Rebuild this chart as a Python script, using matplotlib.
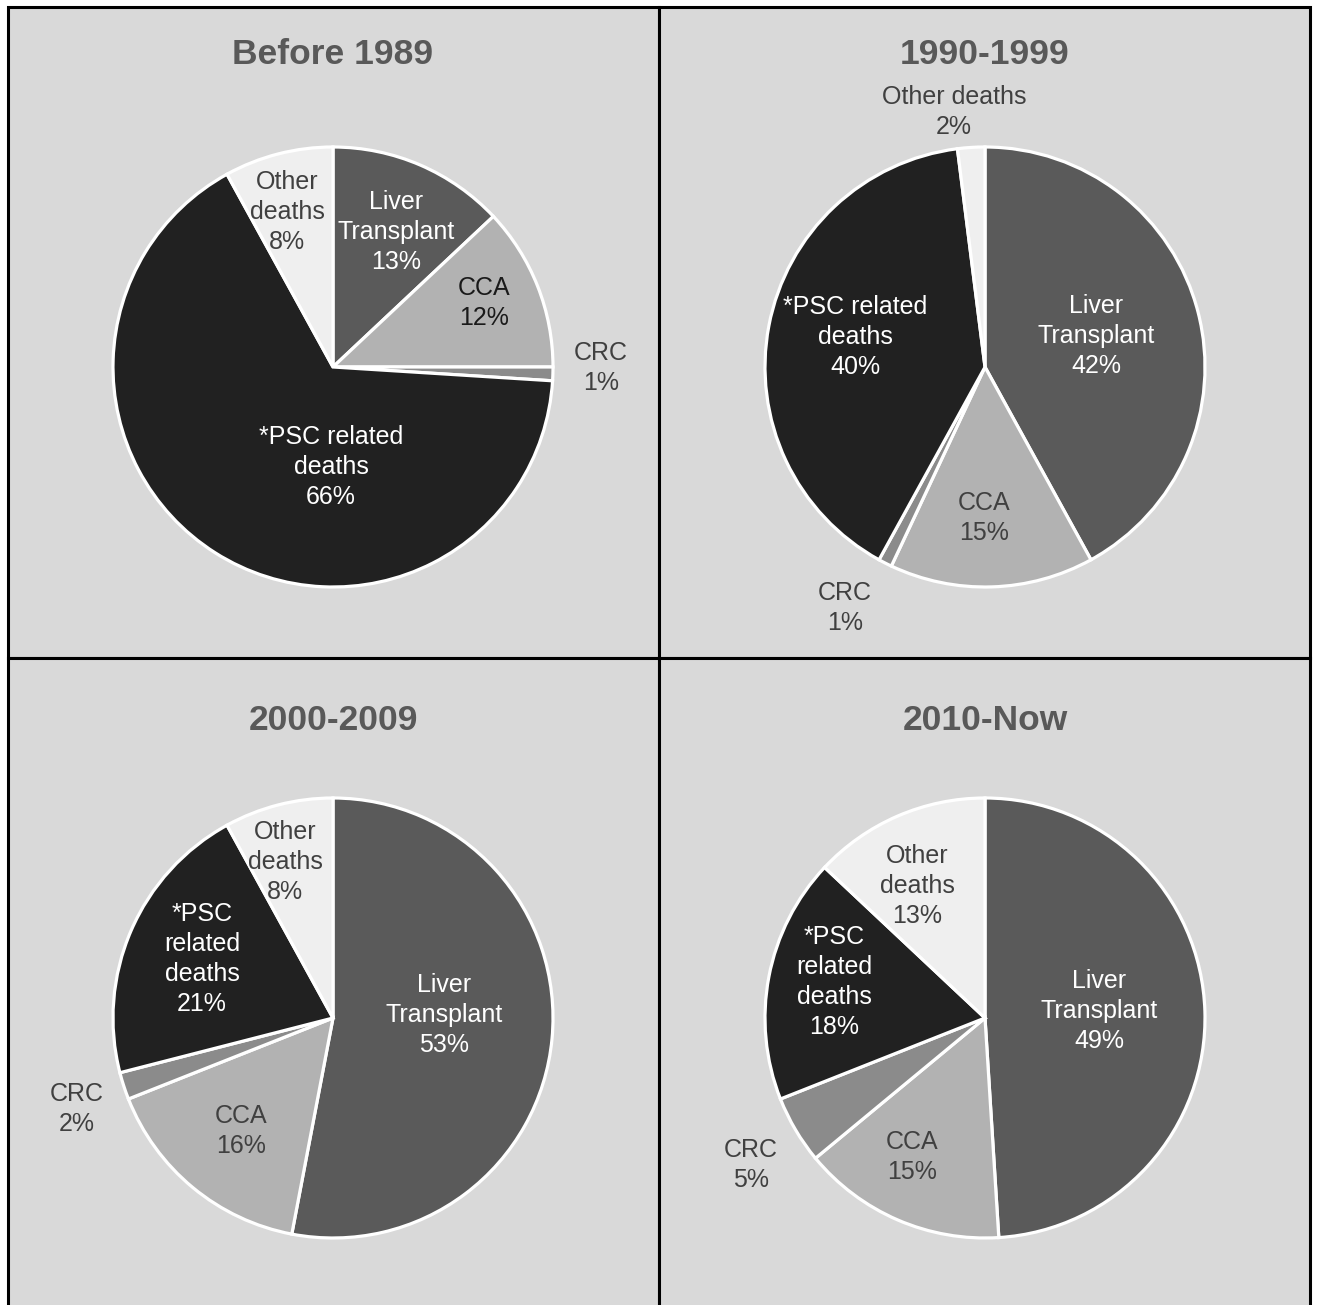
import matplotlib
matplotlib.use("Agg")
import matplotlib.pyplot as plt
from matplotlib.patches import Rectangle

plt.rcParams['font.family'] = ['Liberation Sans', 'DejaVu Sans']

# ---------------- data ----------------
periods = ["Before 1989", "1990-1999", "2000-2009", "2010-Now"]
causes = ["Liver Transplant", "CCA", "CRC", "*PSC related deaths", "Other deaths"]
values_before_1989 = [13, 12, 1, 66, 8]
values_1990_1999 = [42, 15, 1, 40, 2]
values_2000_2009 = [53, 16, 2, 21, 8]
values_2010_now = [49, 15, 5, 18, 13]
label_names_before_1989 = ["Liver\nTransplant", "CCA", "CRC", "*PSC related\ndeaths", "Other\ndeaths"]
label_names_1990_1999 = ["Liver\nTransplant", "CCA", "CRC", "*PSC related\ndeaths", "Other deaths"]
label_names_2000_2009 = ["Liver\nTransplant", "CCA", "CRC", "*PSC\nrelated\ndeaths", "Other\ndeaths"]
label_names_2010_now = ["Liver\nTransplant", "CCA", "CRC", "*PSC\nrelated\ndeaths", "Other\ndeaths"]

all_values = [values_before_1989, values_1990_1999, values_2000_2009, values_2010_now]
all_names = [label_names_before_1989, label_names_1990_1999, label_names_2000_2009, label_names_2010_now]

# ---------------- style / layout ----------------
slice_colors = ["#5a5a5a", "#b2b2b2", "#8b8b8b", "#212121", "#efefef"]
label_colors = ["white", "#404040", "#404040", "white", "#404040"]
W, H = 1318, 1305
panel_bg = "#d9d9d9"
# panel boxes (x0, y0, x1, y1) in pixels from top-left
panels = [(8, 7, 659, 658), (659, 7, 1310, 658), (8, 658, 659, 1309), (659, 658, 1310, 1309)]
centers = [(333, 367), (985, 367), (333, 1018), (985, 1018)]
radius_px = 220
title_pos = [(333, 54), (985, 54), (333, 720), (985, 720)]
# label offsets (pixels) relative to pie centre
label_offsets = [
    [(63, 135), (151, 64), (268, -1), (-2, -100), (-46, 155)],
    [(111, 31), (-1, -151), (-140, -241), (-130, 30), (-31, 255)],
    [(111, 3), (-92, -113), (-256, -91), (-131, 59), (-48, 156)],
    [(114, 7), (-73, -139), (-234, -147), (-151, 36), (-68, 132)],
]

fig = plt.figure(figsize=(W / 100, H / 100), dpi=100)
fig.patch.set_facecolor("white")

bg = fig.add_axes([0, 0, 1, 1])
bg.set_xlim(0, W)
bg.set_ylim(H, 0)
bg.axis("off")
for (x0, y0, x1, y1) in panels:
    bg.add_patch(Rectangle((x0, y0), x1 - x0, y1 - y0, facecolor=panel_bg,
                           edgecolor="black", linewidth=2.2, zorder=1))

for i, (period, vals, names) in enumerate(zip(periods, all_values, all_names)):
    cx, cy = centers[i]
    ax = fig.add_axes([(cx - radius_px) / W, (H - cy - radius_px) / H,
                       2 * radius_px / W, 2 * radius_px / H])
    ax.pie(vals, colors=slice_colors, startangle=90, counterclock=False, radius=1,
           wedgeprops=dict(edgecolor="white", linewidth=2.3))
    ax.set_xlim(-1, 1)
    ax.set_ylim(-1, 1)
    ax.set_aspect("equal")
    ax.axis("off")
    for j, (name, v) in enumerate(zip(names, vals)):
        dx, dy = label_offsets[i][j]
        col = label_colors[j]
        if i == 0 and j == 1:
            col = "#1a1a1a"
        ax.text(dx / radius_px, dy / radius_px, f"{name}\n{v}%", ha="center", va="center",
                fontsize=18, color=col, linespacing=1.31, clip_on=False)
    tx, ty = title_pos[i]
    bg.text(tx, ty, period, ha="center", va="center", fontsize=25.5,
            fontweight="bold", color="#595959", zorder=5)

fig.savefig("out.png", dpi=100, facecolor="white")
